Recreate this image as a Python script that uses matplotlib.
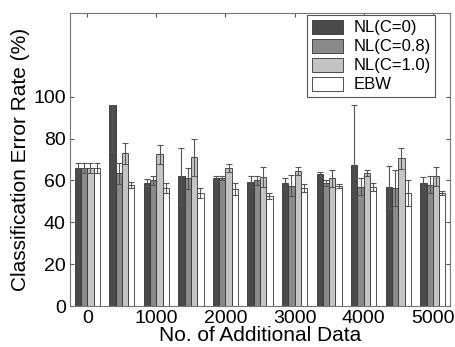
import numpy as np
import matplotlib
matplotlib.use('Agg')
import matplotlib.pyplot as plt

plt.rcParams['font.family'] = ['Liberation Sans', 'DejaVu Sans']

# data
n_data = [0, 500, 1000, 1500, 2000, 2500, 3000, 3500, 4000, 4500, 5000]
labels = ['NL(C=0)', 'NL(C=0.8)', 'NL(C=1.0)', 'EBW']

nl0  = [66, 96, 59, 62, 61, 59.5, 58.7, 63, 67.5, 57, 59]
nl08 = [66, 63.5, 60, 61, 61, 60, 57.5, 58.7, 57, 56.5, 58]
nl10 = [66, 73, 72.5, 71, 66, 61.5, 64.5, 61, 63.5, 70.5, 62]
ebw  = [66, 58, 56.5, 54, 56, 52.5, 56.5, 57.5, 57, 54, 54]

# error bars (lower, upper)
nl0_lo  = [2.5, 22.5, 1.5, 13.5, 1.2, 2.5, 2.7, 1.2, 6.5, 10, 2.5]
nl0_hi  = [2.5, 0.0, 1.5, 13.5, 1.2, 2.5, 2.7, 1.2, 28.5, 10, 2.5]
nl08_err = [2.5, 5, 2, 5, 1, 2, 5, 1.5, 4, 8.5, 4]
nl10_err = [2.5, 5, 4.5, 8.7, 2, 4.8, 2, 4, 1.5, 5, 4.5]
ebw_err  = [2.5, 1.5, 2.5, 2.5, 3, 1.5, 2, 1, 2, 6, 1]

colors = ['#4a4a4a', '#8a8a8a', '#c4c4c4', '#ffffff']

fig = plt.figure(figsize=(4.56, 3.47), dpi=100)
ax = fig.add_axes([0.1535, 0.118, 0.8335, 0.8445])

x = np.array(n_data, dtype=float)
w = 91.
vals = [nl0, nl08, nl10, ebw]
errs = [[nl0_lo, nl0_hi], nl08_err, nl10_err, ebw_err]
for k in range(4):
    ax.bar(x + (k - 1.5) * w, vals[k], w, color=colors[k], edgecolor='#333333',
           linewidth=0.6, label=labels[k], zorder=2)
    ax.errorbar(x + (k - 1.5) * w, vals[k], yerr=errs[k], fmt='none',
                ecolor='#555555', elinewidth=0.8, capsize=2.5, capthick=0.8, zorder=3)

ax.set_xlim(-250, 5250)
ax.set_ylim(0, 140)
ax.set_xticks([0, 1000, 2000, 3000, 4000, 5000])
ax.set_yticks([0, 20, 40, 60, 80, 100])
ax.tick_params(direction='in', length=3, labelsize=14, top=True, right=True,
               color='#555555', pad=3)
for s in ax.spines.values():
    s.set_color('#777777')
    s.set_linewidth(0.8)

ax.set_xlabel('No. of Additional Data', fontsize=15, labelpad=-1)
ax.set_ylabel('Classification Error Rate (%)', fontsize=15, labelpad=2)

leg = ax.legend(loc='upper right', fontsize=12, fancybox=False, framealpha=1,
                edgecolor='#555555', handlelength=1.85, handleheight=0.9,
                labelspacing=0.2, borderpad=0.3, handletextpad=0.6,
                borderaxespad=0.1, bbox_to_anchor=(0.966, 1.0))
leg.get_frame().set_linewidth(0.8)

fig.savefig('out.png', dpi=100)
